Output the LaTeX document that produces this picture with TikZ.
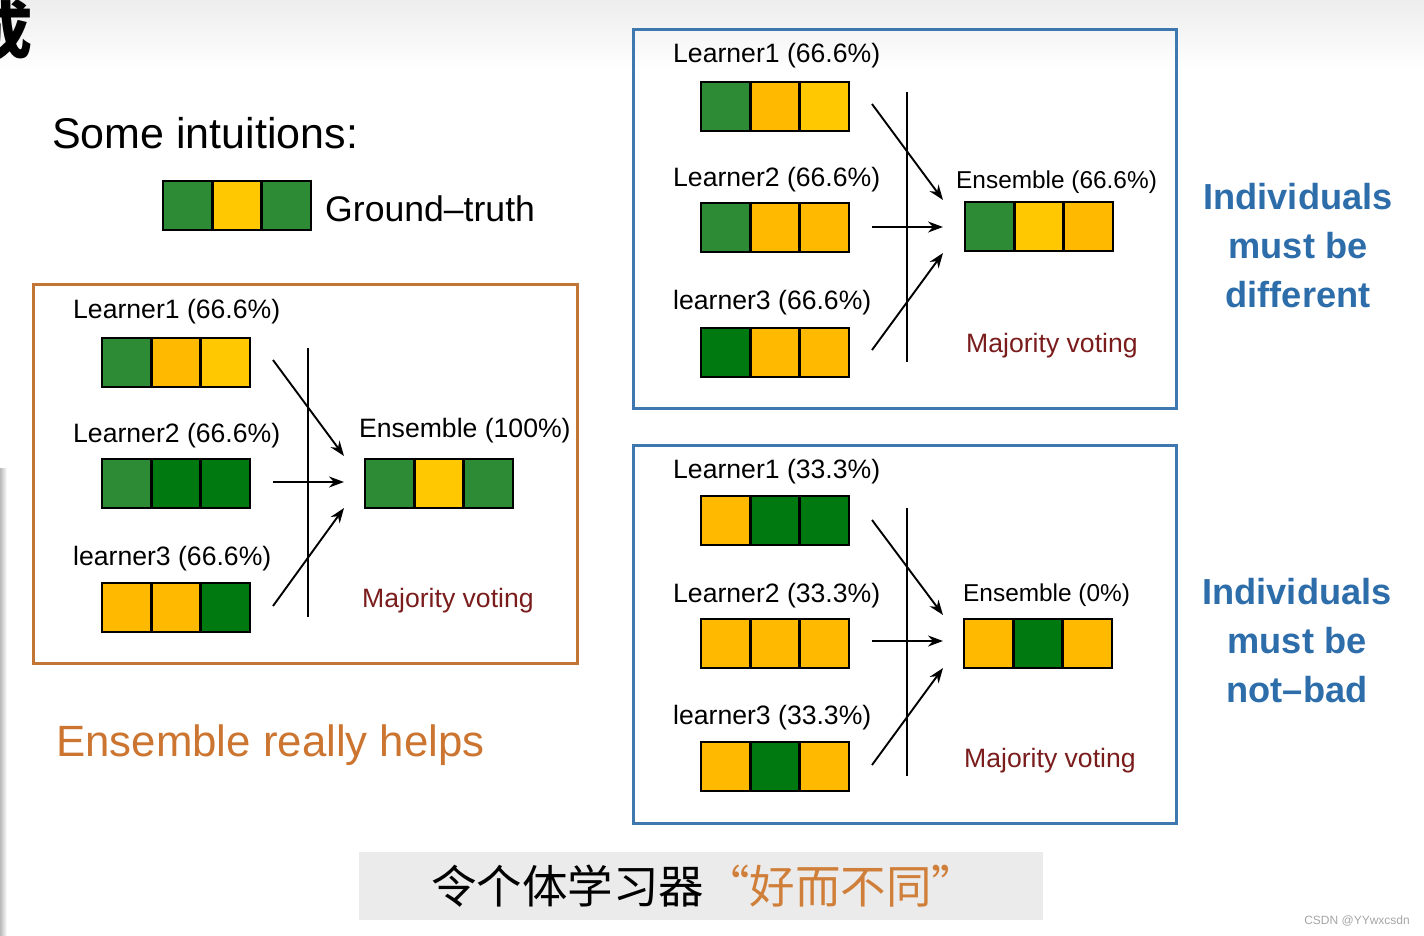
\documentclass[tikz,border=0pt]{standalone}
\usepackage{fontspec}
\setmainfont{Liberation Sans}
\newfontfamily\cjk{Noto Sans CJK SC}
\usetikzlibrary{arrows.meta}
\definecolor{gA}{HTML}{2E8B35}
\definecolor{gB}{HTML}{007A10}
\definecolor{yA}{HTML}{FFBA00}
\definecolor{yB}{HTML}{FFC800}
\definecolor{boxO}{HTML}{C27534}
\definecolor{boxB}{HTML}{3E78AE}
\definecolor{txtB}{HTML}{2D6DAA}
\definecolor{txtO}{HTML}{CC7530}
\definecolor{vote}{HTML}{7A1C1C}
\definecolor{cnO}{HTML}{D07F3A}
\definecolor{banner}{HTML}{EBEBEB}
\newcommand{\cellbar}[6]{%
  \node[cell,fill=#4,anchor=north west] (#1a) at (#2,#3) {};
  \node[cell,fill=#5,anchor=west] (#1b) at (#1a.east) {};
  \node[cell,fill=#6,anchor=west] (#1c) at (#1b.east) {};
}
\tikzset{
  cell/.style={draw=black, line width=2.5pt, minimum width=49.33pt, minimum height=49pt, inner sep=0pt, outer sep=0pt},
  lbl/.style={anchor=west, inner sep=0pt, yshift=-3pt, font=\fontsize{26.6}{30}\selectfont},
  enslbl/.style={anchor=west, inner sep=0pt, yshift=-3pt, font=\fontsize{24.4}{28}\selectfont},
  vote/.style={anchor=west, inner sep=0pt, yshift=-3pt, text=vote, font=\fontsize{26.6}{30}\selectfont},
  arr/.style={line width=1.9pt, -{Stealth[length=15pt,width=11pt]}},
  vline/.style={line width=1.5pt},
  frameO/.style={draw=boxO, line width=3pt},
  frameB/.style={draw=boxB, line width=3pt},
  moral/.style={align=center, anchor=north, inner sep=0pt, text=txtB, font=\bfseries\fontsize{36.2}{49}\selectfont},
}
\begin{document}
\begin{tikzpicture}[x=1pt,y=-1pt]
\useasboundingbox (0,0) rectangle (1424,936);
\fill[white] (0,0) rectangle (1424,936);
\shade[top color=gray!14, bottom color=white] (0,0) rectangle (1424,70);
\shade[left color=gray!55, right color=white] (0,468) rectangle (7,936);
\begin{scope}
\clip (0,0) rectangle (1424,936);
\node[anchor=east, inner sep=0pt, font=\cjk\bfseries\fontsize{62}{70}\selectfont] (title) at (33,30) {成};
\end{scope}

% intro
\node[anchor=west, inner sep=0pt, yshift=-2pt, font=\fontsize{43}{48}\selectfont] (intro) at (52,131) {Some intuitions:};
\cellbar{gt}{163}{181}{gA}{yB}{gA}
\node[anchor=west, inner sep=0pt, yshift=-2pt, font=\fontsize{35.6}{40}\selectfont] (gtl) at (325,207) {Ground--truth};

% left panel
\draw[frameO] (33,284) rectangle (577,663);
\node[lbl] (l1) at (73,309) {Learner1 (66.6\%)};
\node[lbl] (l2) at (73,433) {Learner2 (66.6\%)};
\node[lbl] (l3) at (73,556) {learner3 (66.6\%)};
\cellbar{la}{102}{338}{gA}{yA}{yB}
\cellbar{lb}{102}{459}{gA}{gB}{gB}
\cellbar{lc}{102}{583}{yA}{yA}{gB}
\cellbar{le}{365}{459}{gA}{yB}{gA}
\node[lbl] (lel) at (359,428) {Ensemble (100\%)};
\node[vote] (lv) at (362,598) {Majority voting};
\coordinate (lvt) at (308,348); \coordinate (lvb) at (308,617);
\draw[vline] (lvt) -- (lvb);
\coordinate (ls1) at (273,360); \coordinate (le1) at (344,456);
\coordinate (ls2) at (273,482); \coordinate (le2) at (344,482);
\coordinate (ls3) at (273,606); \coordinate (le3) at (344,508);
\draw[arr] (ls1) -- (le1);
\draw[arr] (ls2) -- (le2);
\draw[arr] (ls3) -- (le3);
\node[anchor=west, inner sep=0pt, yshift=-3pt, text=txtO, font=\fontsize{43.8}{48}\selectfont] (helps) at (56,742) {Ensemble really helps};

% top-right panel
\draw[frameB] (633,30) rectangle (1176,408);
\node[lbl] (t1) at (673,53) {Learner1 (66.6\%)};
\node[lbl] (t2) at (673,177) {Learner2 (66.6\%)};
\node[lbl] (t3) at (673,300) {learner3 (66.6\%)};
\cellbar{ta}{701}{82}{gA}{yA}{yB}
\cellbar{tb}{701}{203}{gA}{yA}{yA}
\cellbar{tc}{701}{328}{gB}{yA}{yA}
\cellbar{te}{965}{202}{gA}{yB}{yA}
\node[enslbl] (tel) at (956,179) {Ensemble (66.6\%)};
\node[vote] (tv) at (966,343) {Majority voting};
\coordinate (tvt) at (907,92); \coordinate (tvb) at (907,362);
\draw[vline] (tvt) -- (tvb);
\coordinate (ts1) at (872,104); \coordinate (te1) at (943,200);
\coordinate (ts2) at (872,227); \coordinate (te2) at (943,227);
\coordinate (ts3) at (872,350); \coordinate (te3) at (943,253);
\draw[arr] (ts1) -- (te1);
\draw[arr] (ts2) -- (te2);
\draw[arr] (ts3) -- (te3);
\node[moral] (m1) at (1298,183) {Individuals\\must be\\different};

% bottom-right panel
\draw[frameB] (633,445) rectangle (1176,823);
\node[lbl] (b1) at (673,469) {Learner1 (33.3\%)};
\node[lbl] (b2) at (673,593) {Learner2 (33.3\%)};
\node[lbl] (b3) at (673,715) {learner3 (33.3\%)};
\cellbar{ba}{701}{496}{yA}{gB}{gB}
\cellbar{bb}{701}{619}{yA}{yA}{yA}
\cellbar{bc}{701}{742}{yA}{gB}{yA}
\cellbar{be}{964}{619}{yA}{gB}{yA}
\node[enslbl] (bel) at (963,592) {Ensemble (0\%)};
\node[vote] (bv) at (964,758) {Majority voting};
\coordinate (bvt) at (907,508); \coordinate (bvb) at (907,776);
\draw[vline] (bvt) -- (bvb);
\coordinate (bs1) at (872,520); \coordinate (be1) at (943,615);
\coordinate (bs2) at (872,641); \coordinate (be2) at (943,641);
\coordinate (bs3) at (872,765); \coordinate (be3) at (943,668);
\draw[arr] (bs1) -- (be1);
\draw[arr] (bs2) -- (be2);
\draw[arr] (bs3) -- (be3);
\node[moral] (m2) at (1297,578) {Individuals\\must be\\not--bad};

% banner
\fill[banner] (359,852) rectangle (1043,920);
\node[anchor=west, inner sep=0pt, font=\cjk\fontsize{45.5}{50}\selectfont] (cn) at (431,886) {令个体学习器\textcolor{cnO}{“好而不同”}};
\node[anchor=east, inner sep=0pt, text=gray!70, font=\fontsize{12}{14}\selectfont] (wm) at (1410,921) {CSDN @YYwxcsdn};
\end{tikzpicture}
\end{document}
